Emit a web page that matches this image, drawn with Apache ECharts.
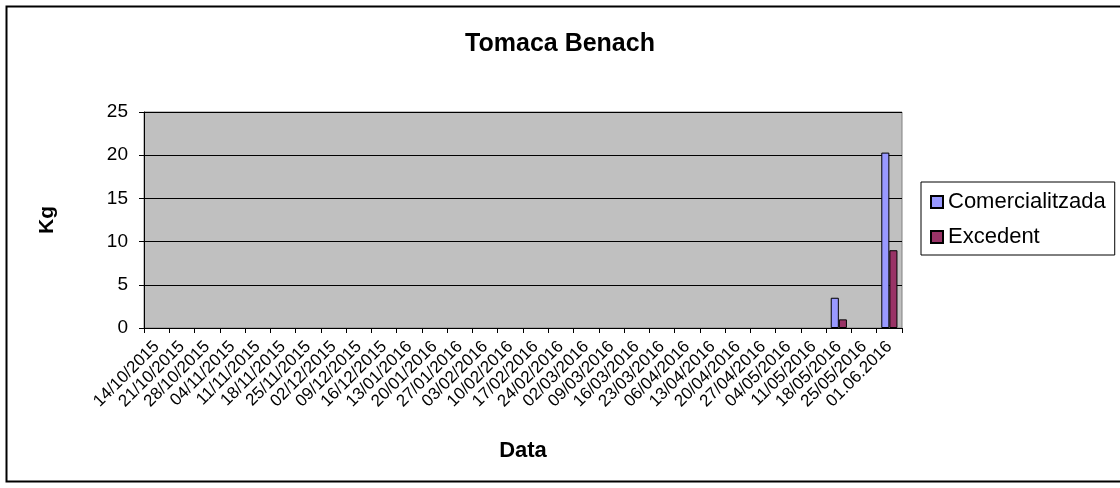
<!DOCTYPE html>
<html>
<head>
<meta charset="utf-8">
<title>Tomaca Benach</title>
<script src="https://cdn.jsdelivr.net/npm/echarts@6/dist/echarts.min.js"></script>
<style>
  html, body { margin: 0; padding: 0; background: #fff; }
  #chart { width: 1120px; height: 488px; }
</style>
</head>
<body>
<div id="chart"></div>
<script>
// dates de collita (eix X)
const dates = [
  '14/10/2015', '21/10/2015', '28/10/2015', '04/11/2015', '11/11/2015',
  '18/11/2015', '25/11/2015', '02/12/2015', '09/12/2015', '16/12/2015',
  '13/01/2016', '20/01/2016', '27/01/2016', '03/02/2016', '10/02/2016',
  '17/02/2016', '24/02/2016', '02/03/2016', '09/03/2016', '16/03/2016',
  '23/03/2016', '06/04/2016', '13/04/2016', '20/04/2016', '27/04/2016',
  '04/05/2016', '11/05/2016', '18/05/2016', '25/05/2016', '01.06.2016'
]
// kg per data (null = sense valor)
const comercialitzada = [
  null, null, null, null, null, null, null, null, null, null,
  null, null, null, null, null, null, null, null, null, null,
  null, null, null, null, null, null, null, 3.5, null, 20.3
]
const excedent = [
  null, null, null, null, null, null, null, null, null, null,
  null, null, null, null, null, null, null, null, null, null,
  null, null, null, null, null, null, null, 1, null, 9
]
const yTicks = [0, 5, 10, 15, 20, 25]

const font = 'Liberation Sans, Arial, sans-serif'
const chart = echarts.init(document.getElementById('chart'))

const option = {
  animation: false,
  textStyle: { fontFamily: font, color: '#000' },
  title: {
    text: 'Tomaca Benach',
    left: 'center',
    top: 27,
    textStyle: { fontFamily: font, fontSize: 25, fontWeight: 'bold', color: '#000' },
  },
  // marc exterior
  graphic: [
    {
      type: 'rect',
      shape: { x: 6.5, y: 6.5, width: 1120, height: 475 },
      style: { fill: 'none', stroke: '#000', lineWidth: 2 },
      silent: true,
    },
  ],
  legend: {
    orient: 'vertical',
    left: 921,
    top: 182,
    padding: [9, 9, 7, 9],
    itemGap: 13,
    itemWidth: 12,
    itemHeight: 12,
    borderColor: '#000',
    borderWidth: 1,
    icon: 'rect',
    textStyle: { fontFamily: font, fontSize: 22, color: '#000' },
    data: ['Comercialitzada', 'Excedent'],
  },
  grid: {
    left: 144,
    right: 218,
    top: 112,
    bottom: 160,
    show: true,
    backgroundColor: '#C0C0C0',
    borderColor: '#808080',
    borderWidth: 1,
  },
  xAxis: {
    type: 'category',
    data: dates,
    name: 'Data',
    nameLocation: 'middle',
    nameGap: 112,
    nameTextStyle: { fontFamily: font, fontSize: 22, fontWeight: 'bold', color: '#000' },
    axisLine: { lineStyle: { color: '#000', width: 1 } },
    axisTick: { show: true, alignWithLabel: false, length: 5, lineStyle: { color: '#000' } },
    axisLabel: {
      interval: 0,
      rotate: 45,
      fontFamily: font,
      fontSize: 17,
      color: '#000',
      margin: 16,
    },
  },
  yAxis: {
    type: 'value',
    min: yTicks[0],
    max: yTicks[yTicks.length - 1],
    interval: 5,
    name: 'Kg',
    nameLocation: 'middle',
    nameGap: 86,
    nameRotate: 90,
    nameTextStyle: { fontFamily: font, fontSize: 21, fontWeight: 'bold', color: '#000' },
    axisLine: { show: true, lineStyle: { color: '#000', width: 1 } },
    axisTick: { show: true, length: 5, lineStyle: { color: '#000' } },
    axisLabel: { fontFamily: font, fontSize: 19, color: '#000', margin: 16 },
    splitLine: { show: true, lineStyle: { color: '#000', width: 1 } },
  },
  series: [
    {
      name: 'Comercialitzada',
      type: 'bar',
      data: comercialitzada,
      barGap: '0%',
      barCategoryGap: '36%',
      itemStyle: { color: '#9999FF', borderColor: '#000', borderWidth: 1 },
    },
    {
      name: 'Excedent',
      type: 'bar',
      data: excedent,
      itemStyle: { color: '#993366', borderColor: '#000', borderWidth: 1 },
    },
  ],
}

chart.setOption(option)
</script>
</body>
</html>
